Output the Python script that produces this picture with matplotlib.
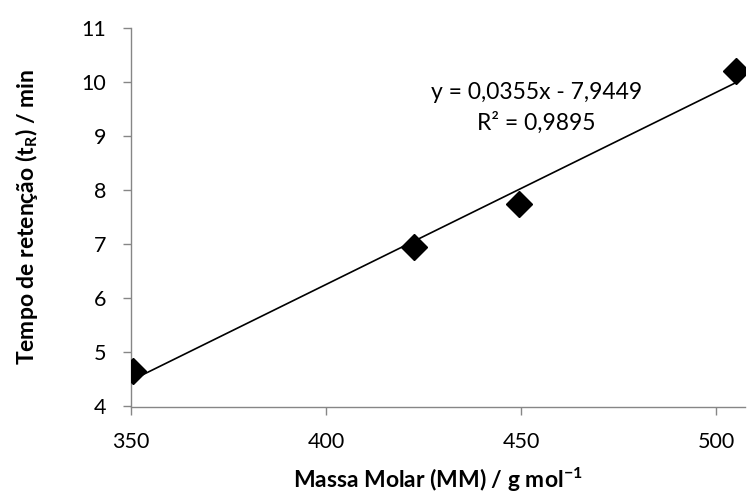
import numpy as np
import matplotlib
matplotlib.use("Agg")
import matplotlib.pyplot as plt

# data
massa_molar = [350.6, 422.6, 449.5, 505.0]
tempo_ret = [4.66, 6.94, 7.74, 10.2]
slope = 0.0355
intercept = -7.9449
r2 = 0.9895

xticks = [350, 400, 450, 500]
yticks = [4, 5, 6, 7, 8, 9, 10, 11]

plt.rcParams['font.family'] = ['Lato', 'DejaVu Sans']
plt.rcParams['mathtext.fontset'] = 'custom'
plt.rcParams['mathtext.rm'] = 'Lato'
plt.rcParams['mathtext.bf'] = 'Lato:bold'

axis_grey = '#868686'

fig = plt.figure(figsize=(7.47, 4.93), dpi=100)
ax = fig.add_axes([131/747, 1 - 406.5/493, (745 - 131)/747, (406.5 - 27.7)/493])

# trendline over the data range
xl = np.array([min(massa_molar), max(massa_molar)])
ax.plot(xl, slope*xl + intercept, color='black', lw=1.2, zorder=2)
ax.plot(massa_molar, tempo_ret, linestyle='none', marker='D', ms=13,
        color='black', zorder=3)

ax.set_xlim(350, 507.4)
ax.set_ylim(4, 11)
ax.set_xticks(xticks)
ax.set_yticks(yticks)

for s in ['top', 'right']:
    ax.spines[s].set_visible(False)
for s in ['left', 'bottom']:
    ax.spines[s].set_color(axis_grey)
    ax.spines[s].set_linewidth(1.0)

ax.tick_params(axis='both', direction='out', length=6, width=1.0,
               color=axis_grey, labelsize=15.5, labelcolor='black')
ax.tick_params(axis='x', pad=12)
ax.tick_params(axis='y', pad=12)

ax.text(454, 9.81, f"y = {slope:.4f}x - {abs(intercept):.4f}".replace('.', ','),
        ha='center', va='center', fontsize=16.5)
ax.text(454, 9.24, f"R² = {r2:.4f}".replace('.', ','),
        ha='center', va='center', fontsize=16.5)

ax.set_xlabel(r"Massa Molar (MM) / g mol$\mathbf{^{-1}}$", fontsize=16.5,
              fontweight='bold', labelpad=10)
ax.set_ylabel(r"Tempo de retenção (t$\mathbf{_R}$) / min", fontsize=16.5,
              fontweight='bold', labelpad=30)

fig.savefig("out.png", dpi=100)
